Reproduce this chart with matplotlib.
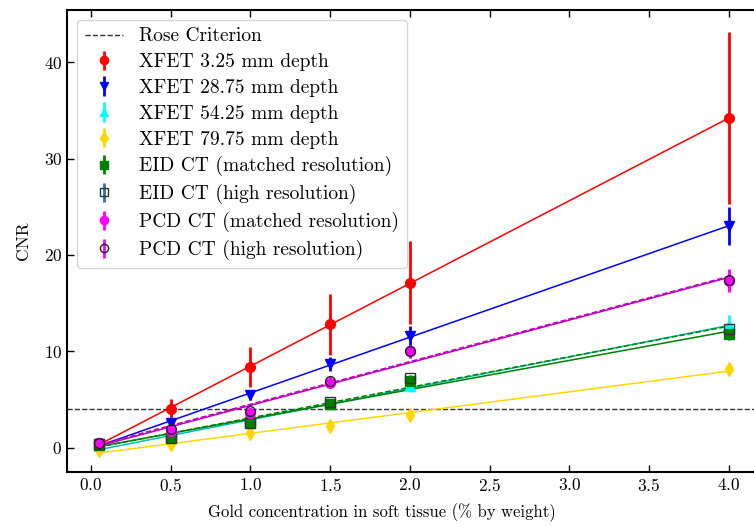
import numpy as np
import matplotlib
matplotlib.use("Agg")
import matplotlib.pyplot as plt

plt.rcParams.update({
    "font.family": "serif",
    "font.serif": ["cmr10"],
    "mathtext.fontset": "cm",
    "axes.unicode_minus": False,
    "axes.formatter.use_mathtext": True,
    "font.size": 12,
})

# Gold concentration (% by weight)
conc = [0.05, 0.5, 1.0, 1.5, 2.0, 4.0]

# CNR values and uncertainties
xfet_325 = [0.5, 4.0, 8.4, 12.8, 17.1, 34.2]
xfet_325_err = [0.1, 1.1, 2.1, 3.2, 4.3, 8.9]
xfet_2875 = [0.4, 2.6, 5.5, 8.7, 11.6, 23.0]
xfet_2875_err = [0.1, 0.3, 0.5, 0.7, 1.0, 2.0]
xfet_5425 = [0.2, 1.0, 2.6, 4.5, 6.4, 12.7]
xfet_5425_err = [0.05, 0.2, 0.3, 0.5, 0.6, 1.1]
xfet_7975 = [-0.2, 0.4, 1.5, 2.3, 3.4, 8.2]
xfet_7975_err = [0.05, 0.1, 0.2, 0.3, 0.4, 0.5]
eid_matched = [0.3, 1.1, 2.7, 4.5, 6.9, 11.8]
eid_matched_err = [0.05, 0.1, 0.2, 0.3, 0.4, 0.6]
eid_high = [0.4, 1.0, 2.6, 4.8, 7.2, 12.3]
eid_high_err = [0.05, 0.1, 0.2, 0.3, 0.4, 0.6]
pcd_matched = [0.5, 1.8, 3.6, 6.7, 10.0, 17.3]
pcd_matched_err = [0.05, 0.15, 0.3, 0.5, 0.7, 1.1]
pcd_high = [0.5, 2.0, 3.8, 6.9, 10.0, 17.4]
pcd_high_err = [0.05, 0.15, 0.3, 0.5, 0.7, 1.1]

rose_level = 4

series = [
    # label, values, errors, marker, marker face, marker edge, err colour, line colour, line style
    ("XFET 3.25 mm depth", xfet_325, xfet_325_err, "o", "red", "red", "red", "red", "-"),
    ("XFET 28.75 mm depth", xfet_2875, xfet_2875_err, "v", "blue", "blue", "blue", "blue", "-"),
    ("XFET 54.25 mm depth", xfet_5425, xfet_5425_err, "^", "cyan", "cyan", "cyan", "c", "-"),
    ("XFET 79.75 mm depth", xfet_7975, xfet_7975_err, "d", "gold", "gold", "gold", "gold", "-"),
    ("EID CT (matched resolution)", eid_matched, eid_matched_err, "s", "green", "green", "green", "g", "-"),
    ("EID CT (high resolution)", eid_high, eid_high_err, "s", "none", "#333333", "#1f77b4", "g", "--"),
    ("PCD CT (matched resolution)", pcd_matched, pcd_matched_err, "o", "magenta", "magenta", "magenta", "m", "-"),
    ("PCD CT (high resolution)", pcd_high, pcd_high_err, "o", "none", "#222222", "magenta", "m", "--"),
]

fig = plt.figure(figsize=(7.54, 5.26), dpi=100)
ax = fig.add_axes([0.0889, 0.1027, 0.92, 0.8783])

ax.axhline(rose_level, color="#333333", ls="--", lw=1.0, label="Rose Criterion", zorder=1)

x = np.array(conc)
for label, y, err, mk, mfc, mec, ecol, lcol, lls in series:
    y = np.array(y)
    slope, icpt = np.polyfit(x, y, 1)
    xf = np.array([x.min(), x.max()])
    ax.plot(xf, slope * xf + icpt, color=lcol, ls=lls, lw=1.1, zorder=2)
    ax.errorbar(x, y, yerr=err, fmt=mk, ms=7, mfc=mfc, mec=mec, mew=1.0,
                ecolor=ecol, elinewidth=2, capsize=0, label=label, zorder=3)

ax.set_xlim(-0.15, 4.2)
ax.set_ylim(-2.5, 45.4)
ax.set_xticks(np.arange(0, 4.01, 0.5))
ax.set_yticks([0, 10, 20, 30, 40])
ax.tick_params(direction="in", top=True, right=True, length=5, width=1, labelsize=12.5)
for s in ax.spines.values():
    s.set_linewidth(1.5)

ax.set_xlabel("Gold concentration in soft tissue (% by weight)", fontsize=12)
ax.set_ylabel("CNR", fontsize=12.5)
ax.xaxis.set_label_coords(0.454, -0.068)
ax.yaxis.set_label_coords(-0.052, 0.5)

leg = ax.legend(loc="upper left", fontsize=14, framealpha=0.8, edgecolor="#cccccc",
                handlelength=2.0, borderaxespad=0.5, labelspacing=0.4, handletextpad=0.8,
                markerscale=0.85)

fig.savefig("out.png", dpi=100)
